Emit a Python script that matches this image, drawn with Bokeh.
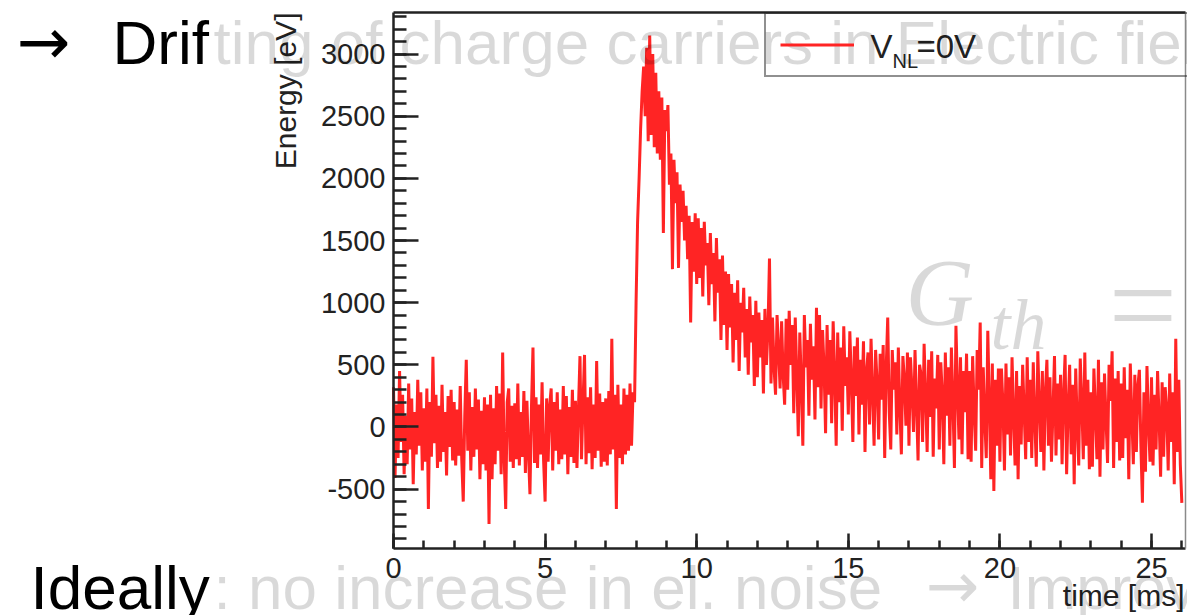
import numpy as np
from bokeh.plotting import figure
from bokeh.models import Label, Legend, LegendItem, FixedTicker, LinearAxis
from bokeh.embed import file_html
from bokeh.resources import INLINE

# ---------------- data ----------------
dt_ms = 0.05  # sample spacing of the trace [ms]
energy_ev = [
    # 0 - 1 ms
    320, -410, 180, -250, 450, -120, 260, -380, 90, -300, 350, -180, 230, -460, 120, -220, 380, -150, 280, -350,
    # 1 - 2 ms
    150, -280, 310, -660, 200, -240, 565, -130, 260, -330, 170, -280, 340, -200, 120, -390, 250, -160, 300, -270,
    # 2 - 3 ms
    200, -310, 140, -230, 330, -260, -600, 90, 540, -190, 280, -350, 160, -240, 310, -180, 220, -420, 130, -300,
    # 3 - 4 ms
    240, -350, 180, -780, 260, -420, 150, -300, 330, -190, 270, -380, 600, -250, -660, 200, 310, -280, 170, -330,
    # 4 - 5 ms
    190, -260, 350, -310, 120, -240, 290, -370, 210, -200, -540, 160, 640, -290, 240, -330, 180, -220, 360, -270,
    # 5 - 6 ms
    -600, 230, -280, 170, 310, -350, 200, -190, 280, -300, 140, -260, 330, -220, 250, -380, 160, -240, 300, -290,
    # 6 - 7 ms
    210, -330, 150, 570, -260, 190, 580, -300, 240, -210, 320, -340, 180, -250, 530, -190, 270, -320, 200, -280,
    # 7 - 8 ms
    230, -310, 290, -220, 710, -180, 260, -660, 340, -250, 180, -300, 310, -220, 260, -190, 350, -150, 280, 200,
    # 8 - 9 ms
    1000, 1650, 2000, 2400, 2700, 2900, 2500, 3050, 2300, 3150, 2350, 3000, 2250, 2850, 2200, 2700, 2150, 2650, 1560, 2550,
    # 9 - 10 ms
    2380, 2590, 1950, 2200, 1270, 2150, 1800, 2050, 1280, 1950, 1650, 1900, 1500, 1780, 1350, 1700, 840, 1650, 1250, 1720,
    # 10 - 11 ms
    1150, 1680, 1200, 1600, 1050, 1650, 1300, 1480, 980, 1560, 1150, 1400, 850, 1520, 1080, 1350, 700, 1380, 820, 1250,
    # 11 - 12 ms
    620, 1230, 800, 1150, 520, 1080, 700, 1180, 450, 1000, 760, 1120, 560, 950, 420, 1050, 680, 900, 330, 1015,
    # 12 - 13 ms
    400, 920, 560, 860, 270, 950, 500, 780, 1355, 350, 880, 480, 260, 900, 620, 310, 850, 420, 180, 870,
    # 13 - 14 ms
    300, 935, 500, 820, 110, 880, 420, -75, 760, 350, -150, 900, 480, 700, 90, 830, 380, 650, 60, 960,
    # 14 - 15 ms
    320, 900, 150, 780, 480, -50, 820, 260, 700, 30, 850, 420, -150, 760, 200, 640, -30, 810, 330, 560,
    # 15 - 16 ms
    100, 770, 380, -120, 650, 250, 720, -60, 540, 180, 690, -200, 450, 600, 20, 710, 280, -150, 620, 350,
    # 16 - 17 ms
    -100, 590, 220, 660, -250, 480, 880, 120, -180, 620, 300, 520, -60, 640, 160, -220, 570, 380, 10, 600,
    # 17 - 18 ms
    -150, 560, 300, -40, 620, 180, -270, 500, 420, -120, 670, 250, -200, 540, 80, 610, -240, 390, 150, 580,
    # 18 - 19 ms
    -180, 520, 260, -300, 600, 90, 480, -150, 640, 200, -330, 815, 310, -100, 560, -220, 450, 120, 590, -260,
    # 19 - 20 ms
    450, -280, 570, 130, -190, 620, 300, 840, -330, 480, 60, -250, 775, 200, -420, 510, -515, 380, -150, 470,
    # 20 - 21 ms
    -280, 470, 180, -350, 510, -60, 400, -230, 560, 90, -310, 450, -420, 330, -140, 500, 120, -260, 560, -120,
    # 21 - 22 ms
    380, -250, 520, 60, -320, 610, 180, -200, 450, -350, 280, 540, -150, 400, -280, 130, 570, -230, 350, -100,
    # 22 - 23 ms
    420, -300, 260, 580, -380, 150, 500, -220, 340, -460, 470, 20, -310, 550, 200, -260, 600, -150, 380, -340,
    # 23 - 24 ms
    280, -320, 470, 120, -260, 540, -400, 360, -180, 430, 60, -290, 500, 210, 610, -330, 390, -120, 450, -270,
    # 24 - 25 ms
    350, -250, 480, -90, 300, -420, 510, 100, -300, 420, -200, 330, 460, -150, -610, 280, -360, 490, 40, -280,
    # 25 - 26 ms
    400, -310, 260, -180, 450, 70, -400, 360, -240, 320, 150, -350, 430, -120, 280, -460, 710, -200, 380, -300,
    # 26 ms
    -610,
]
time_ms = (np.arange(len(energy_ev)) * dt_ms).tolist()

x_ticks = [0, 5, 10, 15, 20, 25]
x_tick_labels = ["0", "5", "10", "15", "20", "25"]
y_ticks = [-500, 0, 500, 1000, 1500, 2000, 2500, 3000]
y_tick_labels = ["-500", "0", "500", "1000", "1500", "2000", "2500", "3000"]

x_title = "time [ms]"
y_title = "Energy [eV]"
legend_main = "V"
legend_sub = "NL"
legend_rest = "=0V"

slide_arrow = "\u2192"
slide_top_dark = "Drif"
slide_top_light = "ting of charge carriers in Electric field"
slide_bottom_dark = "Ideally"
slide_bottom_light = ": no increase in el. noise"
slide_bottom_arrow = "\u2192"
slide_bottom_end = "Improvement"
formula_main = "G"
formula_sub = "th"
formula_eq = "="

# ---------------- layout constants ----------------
W, H = 1187, 615
SANS = "Liberation Sans"
SERIF = "Liberation Serif"
ARROW_FONT = "DejaVu Sans"
AX = "#222222"
BL = 0.36   # empirical shift (in em) of the rendered alphabetic baseline

X_FRAME = (0.0, 26.12)        # data x of left / right frame edges
Y_FRAME = (-977.0, 3338.0)    # data y of bottom / top frame edges

p = figure(width=W, height=H, x_range=(-12.962, 26.187), y_range=(-1516.5, 3431.2),
           output_backend="svg", toolbar_location=None,
           min_border=0, min_border_left=0, min_border_right=0,
           min_border_top=0, min_border_bottom=0)
p.title.visible = False
p.grid.visible = False
p.background_fill_color = "white"
p.border_fill_color = "white"
p.outline_line_color = None

r = p.line(time_ms, energy_ev, line_color="#ff2424", line_width=3.0)

# ---------------- axes ----------------
x_minor = [float(v) for v in range(0, 27)]
y_minor = [float(v) for v in range(-900, 3400, 100)]

xa = p.xaxis[0]
ya = p.yaxis[0]
xa.ticker = FixedTicker(ticks=x_ticks, minor_ticks=x_minor)
ya.ticker = FixedTicker(ticks=y_ticks, minor_ticks=y_minor)
xa.major_label_overrides = {t: s for t, s in zip(x_ticks, x_tick_labels)}
ya.major_label_overrides = {t: s for t, s in zip(y_ticks, y_tick_labels)}
xa.fixed_location = Y_FRAME[0]
ya.fixed_location = X_FRAME[0]
xa.bounds = X_FRAME
ya.bounds = Y_FRAME
for ax in (xa, ya):
    ax.axis_line_color = AX
    ax.axis_line_width = 2.5
    ax.major_tick_line_color = AX
    ax.minor_tick_line_color = AX
    ax.major_tick_line_width = 2.5
    ax.minor_tick_line_width = 2.5
    ax.major_tick_out = 0
    ax.minor_tick_out = 0
    ax.major_label_text_font = SANS
    ax.major_label_text_font_size = "29px"
    ax.major_label_text_color = AX
xa.major_tick_in = 15
xa.minor_tick_in = 8
ya.major_tick_in = 25
ya.minor_tick_in = 13
xa.major_label_standoff = 10
ya.major_label_standoff = 8

top_axis = LinearAxis(ticker=FixedTicker(ticks=[]), fixed_location=Y_FRAME[1], bounds=X_FRAME,
                      axis_line_color=AX, axis_line_width=2.5,
                      major_tick_line_color=None, minor_tick_line_color=None)
right_axis = LinearAxis(ticker=FixedTicker(ticks=[]), fixed_location=X_FRAME[1], bounds=Y_FRAME,
                        axis_line_color="#8a8a8a", axis_line_width=1.5,
                        major_tick_line_color=None, minor_tick_line_color=None)
p.add_layout(top_axis, "above")
p.add_layout(right_axis, "right")

# ---------------- legend (box + sample line; its text is drawn as labels) ----------------
leg = Legend(items=[LegendItem(label=" ", renderers=[r])],
             location=(764, 538), margin=0, padding=14, spacing=0,
             glyph_width=74, glyph_height=33, label_height=33, label_width=330,
             label_standoff=16, label_text_font=SANS, label_text_font_size="33px",
             label_text_color=AX, border_line_color=AX, border_line_width=2.5,
             background_fill_color="white", background_fill_alpha=0.0)
p.add_layout(leg)


def screen_label(x, y_base, txt, size_px, color=AX, alpha=1.0, font=SANS, style="normal",
                 align="left", rotated=False):
    """x / y_base: wanted baseline position in canvas pixels (y from the bottom)."""
    shift = BL * size_px
    if rotated:
        lx, ly, ang = x - shift, y_base, np.pi / 2
    else:
        lx, ly, ang = x, y_base + shift, 0.0
    return Label(x=lx, y=ly, x_units="screen", y_units="screen", text=txt,
                 text_baseline="alphabetic", text_align=align, angle=ang,
                 text_font=font, text_font_size=f"{size_px}px", text_font_style=style,
                 text_color=color, text_alpha=alpha, level="overlay")


# legend texts
p.add_layout(screen_label(870, H - 58, legend_main, 33))
p.add_layout(screen_label(892, H - 68, legend_sub, 20))
p.add_layout(screen_label(916, H - 58, legend_rest, 33))

# axis titles
p.add_layout(screen_label(296, H - 12, y_title, 30, align="right", rotated=True))
p.add_layout(screen_label(1184, H - 606, x_title, 30, align="right"))

# slide texts (overlay)
GREY = dict(color="black", alpha=0.15)
p.add_layout(screen_label(16, H - 65, slide_arrow, 64, color="black", font=ARROW_FONT))
p.add_layout(screen_label(112, H - 64, slide_top_dark, 62, color="black"))
p.add_layout(screen_label(213, H - 64, slide_top_light, 62, **GREY))
p.add_layout(screen_label(30, H - 609, slide_bottom_dark, 62, color="black"))
p.add_layout(screen_label(213, H - 609, slide_bottom_light, 62, **GREY))
p.add_layout(screen_label(925, H - 609, slide_bottom_arrow, 64, font=ARROW_FONT, **GREY))
p.add_layout(screen_label(1007, H - 609, slide_bottom_end, 62, **GREY))
p.add_layout(screen_label(905, H - 327, formula_main, 95, font=SERIF, style="italic", **GREY))
p.add_layout(screen_label(990, H - 350, formula_sub, 72, font=SERIF, style="italic", **GREY))
p.add_layout(screen_label(1108, H - 348, formula_eq, 122, font=SERIF, **GREY))

open("out.html", "w").write(file_html(p, INLINE))
